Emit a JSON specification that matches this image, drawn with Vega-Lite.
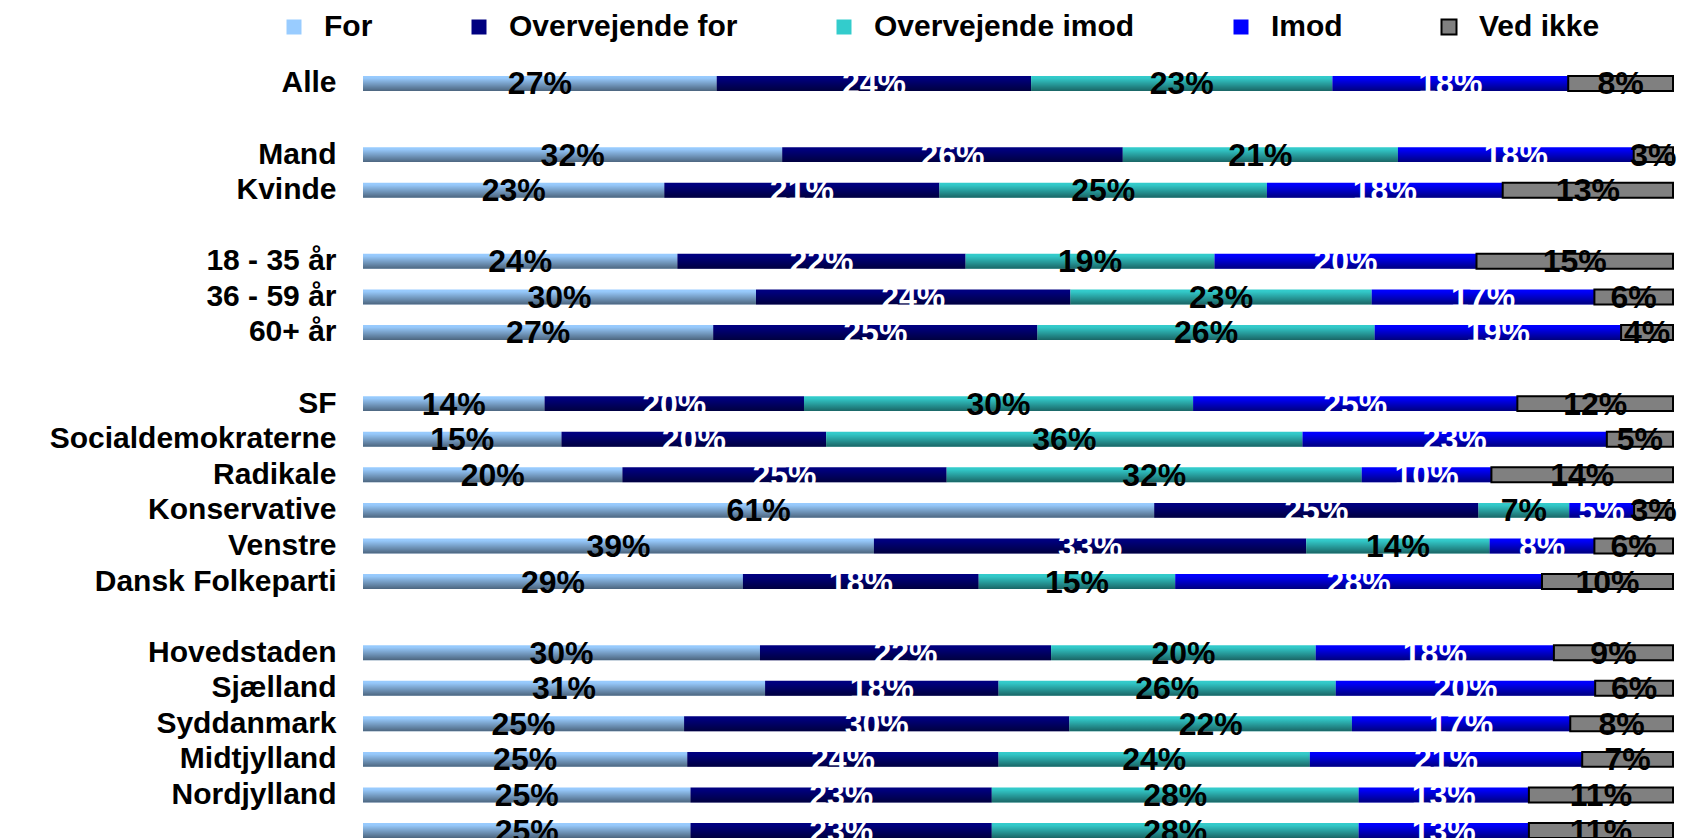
{
  "$schema": "https://vega.github.io/schema/vega-lite/v6.json",
  "width": 1310,
  "height": 762,
  "autosize": {"type": "none"},
  "padding": {"left": 363, "top": 76, "right": 9, "bottom": 0},
  "background": "white",
  "config": {"view": {"stroke": null}},
  "data": {"values": [
    {"g": "Alle", "c": "For", "v": 27}, {"g": "Alle", "c": "Overvejende for", "v": 24}, {"g": "Alle", "c": "Overvejende imod", "v": 23}, {"g": "Alle", "c": "Imod", "v": 18}, {"g": "Alle", "c": "Ved ikke", "v": 8},
    {"g": "Mand", "c": "For", "v": 32}, {"g": "Mand", "c": "Overvejende for", "v": 26}, {"g": "Mand", "c": "Overvejende imod", "v": 21}, {"g": "Mand", "c": "Imod", "v": 18}, {"g": "Mand", "c": "Ved ikke", "v": 3},
    {"g": "Kvinde", "c": "For", "v": 23}, {"g": "Kvinde", "c": "Overvejende for", "v": 21}, {"g": "Kvinde", "c": "Overvejende imod", "v": 25}, {"g": "Kvinde", "c": "Imod", "v": 18}, {"g": "Kvinde", "c": "Ved ikke", "v": 13},
    {"g": "18 - 35 år", "c": "For", "v": 24}, {"g": "18 - 35 år", "c": "Overvejende for", "v": 22}, {"g": "18 - 35 år", "c": "Overvejende imod", "v": 19}, {"g": "18 - 35 år", "c": "Imod", "v": 20}, {"g": "18 - 35 år", "c": "Ved ikke", "v": 15},
    {"g": "36 - 59 år", "c": "For", "v": 30}, {"g": "36 - 59 år", "c": "Overvejende for", "v": 24}, {"g": "36 - 59 år", "c": "Overvejende imod", "v": 23}, {"g": "36 - 59 år", "c": "Imod", "v": 17}, {"g": "36 - 59 år", "c": "Ved ikke", "v": 6},
    {"g": "60+ år", "c": "For", "v": 27}, {"g": "60+ år", "c": "Overvejende for", "v": 25}, {"g": "60+ år", "c": "Overvejende imod", "v": 26}, {"g": "60+ år", "c": "Imod", "v": 19}, {"g": "60+ år", "c": "Ved ikke", "v": 4},
    {"g": "SF", "c": "For", "v": 14}, {"g": "SF", "c": "Overvejende for", "v": 20}, {"g": "SF", "c": "Overvejende imod", "v": 30}, {"g": "SF", "c": "Imod", "v": 25}, {"g": "SF", "c": "Ved ikke", "v": 12},
    {"g": "Socialdemokraterne", "c": "For", "v": 15}, {"g": "Socialdemokraterne", "c": "Overvejende for", "v": 20}, {"g": "Socialdemokraterne", "c": "Overvejende imod", "v": 36}, {"g": "Socialdemokraterne", "c": "Imod", "v": 23}, {"g": "Socialdemokraterne", "c": "Ved ikke", "v": 5},
    {"g": "Radikale", "c": "For", "v": 20}, {"g": "Radikale", "c": "Overvejende for", "v": 25}, {"g": "Radikale", "c": "Overvejende imod", "v": 32}, {"g": "Radikale", "c": "Imod", "v": 10}, {"g": "Radikale", "c": "Ved ikke", "v": 14},
    {"g": "Konservative", "c": "For", "v": 61}, {"g": "Konservative", "c": "Overvejende for", "v": 25}, {"g": "Konservative", "c": "Overvejende imod", "v": 7}, {"g": "Konservative", "c": "Imod", "v": 5}, {"g": "Konservative", "c": "Ved ikke", "v": 3},
    {"g": "Venstre", "c": "For", "v": 39}, {"g": "Venstre", "c": "Overvejende for", "v": 33}, {"g": "Venstre", "c": "Overvejende imod", "v": 14}, {"g": "Venstre", "c": "Imod", "v": 8}, {"g": "Venstre", "c": "Ved ikke", "v": 6},
    {"g": "Dansk Folkeparti", "c": "For", "v": 29}, {"g": "Dansk Folkeparti", "c": "Overvejende for", "v": 18}, {"g": "Dansk Folkeparti", "c": "Overvejende imod", "v": 15}, {"g": "Dansk Folkeparti", "c": "Imod", "v": 28}, {"g": "Dansk Folkeparti", "c": "Ved ikke", "v": 10},
    {"g": "Hovedstaden", "c": "For", "v": 30}, {"g": "Hovedstaden", "c": "Overvejende for", "v": 22}, {"g": "Hovedstaden", "c": "Overvejende imod", "v": 20}, {"g": "Hovedstaden", "c": "Imod", "v": 18}, {"g": "Hovedstaden", "c": "Ved ikke", "v": 9},
    {"g": "Sjælland", "c": "For", "v": 31}, {"g": "Sjælland", "c": "Overvejende for", "v": 18}, {"g": "Sjælland", "c": "Overvejende imod", "v": 26}, {"g": "Sjælland", "c": "Imod", "v": 20}, {"g": "Sjælland", "c": "Ved ikke", "v": 6},
    {"g": "Syddanmark", "c": "For", "v": 25}, {"g": "Syddanmark", "c": "Overvejende for", "v": 30}, {"g": "Syddanmark", "c": "Overvejende imod", "v": 22}, {"g": "Syddanmark", "c": "Imod", "v": 17}, {"g": "Syddanmark", "c": "Ved ikke", "v": 8},
    {"g": "Midtjylland", "c": "For", "v": 25}, {"g": "Midtjylland", "c": "Overvejende for", "v": 24}, {"g": "Midtjylland", "c": "Overvejende imod", "v": 24}, {"g": "Midtjylland", "c": "Imod", "v": 21}, {"g": "Midtjylland", "c": "Ved ikke", "v": 7},
    {"g": "Nordjylland", "c": "For", "v": 25}, {"g": "Nordjylland", "c": "Overvejende for", "v": 23}, {"g": "Nordjylland", "c": "Overvejende imod", "v": 28}, {"g": "Nordjylland", "c": "Imod", "v": 13}, {"g": "Nordjylland", "c": "Ved ikke", "v": 11},
    {"g": "     ", "c": "For", "v": 25}, {"g": "     ", "c": "Overvejende for", "v": 23}, {"g": "     ", "c": "Overvejende imod", "v": 28}, {"g": "     ", "c": "Imod", "v": 13}, {"g": "     ", "c": "Ved ikke", "v": 11}
  ]},
  "transform": [
    {"stack": "v", "groupby": ["g"], "offset": "normalize", "as": ["x0", "x1"]},
    {"calculate": "(datum.x0 + datum.x1) / 2", "as": "xm"},
    {"calculate": "datum.v + '%'", "as": "lab"}
  ],
  "encoding": {
    "y": {
      "field": "g",
      "type": "nominal",
      "title": null,
      "scale": {
        "domain": ["Alle", " ", "Mand", "Kvinde", "  ", "18 - 35 år", "36 - 59 år", "60+ år", "   ", "SF", "Socialdemokraterne", "Radikale", "Konservative", "Venstre", "Dansk Folkeparti", "    ", "Hovedstaden", "Sjælland", "Syddanmark", "Midtjylland", "Nordjylland", "     "],
        "paddingInner": 0.58,
        "paddingOuter": 0
      },
      "axis": {
        "domain": false,
        "ticks": false,
        "grid": false,
        "labelPadding": 27,
        "labelFont": "Liberation Sans",
        "labelFontWeight": "bold",
        "labelFontSize": 30,
        "labelColor": "black",
        "labelLimit": 0,
        "labelBaseline": "middle"
      }
    },
    "x": {"field": "x0", "type": "quantitative", "scale": {"domain": [0, 1], "nice": false, "zero": false}, "axis": null}
  },
  "layer": [
    {
      "mark": {"type": "bar", "strokeWidth": 2},
      "encoding": {
        "x2": {"field": "x1"},
        "color": {
          "field": "c",
          "type": "nominal",
          "scale": {
            "domain": ["For", "Overvejende for", "Overvejende imod", "Imod", "Ved ikke"],
            "range": ["#99CCFF", "#000080", "#33CCCC", "#0000FF", "#808080"]
          },
          "legend": {
            "title": null,
            "orient": "none",
            "direction": "horizontal",
            "legendX": -84,
            "legendY": -64,
            "symbolType": "square",
            "symbolSize": 225,
            "symbolStrokeWidth": 2,
            "symbolOpacity": 1,
            "labelFont": "Liberation Sans",
            "labelFontWeight": "bold",
            "labelFontSize": 30,
            "labelColor": "black",
            "labelOffset": 15,
            "columnPadding": 91,
            "labelLimit": 0,
            "padding": 0
          }
        },
        "stroke": {
          "field": "c",
          "type": "nominal",
          "scale": {
            "domain": ["For", "Overvejende for", "Overvejende imod", "Imod", "Ved ikke"],
            "range": ["transparent", "transparent", "transparent", "transparent", "black"]
          },
          "legend": {
            "title": null,
            "orient": "none",
            "direction": "horizontal",
            "legendX": -84,
            "legendY": -64,
            "symbolType": "square",
            "symbolSize": 225,
            "symbolStrokeWidth": 2,
            "symbolOpacity": 1,
            "labelFont": "Liberation Sans",
            "labelFontWeight": "bold",
            "labelFontSize": 30,
            "labelColor": "black",
            "labelOffset": 15,
            "columnPadding": 91,
            "labelLimit": 0,
            "padding": 0
          }
        }
      }
    },
    {
      "transform": [{"filter": "datum.c !== 'Ved ikke'"}],
      "mark": {
        "type": "bar",
        "color": {"gradient": "linear", "x1": 0, "y1": 0, "x2": 0, "y2": 1, "stops": [{"offset": 0, "color": "rgba(0,0,0,0)"}, {"offset": 0.15, "color": "rgba(0,0,0,0.02)"}, {"offset": 1, "color": "rgba(0,0,0,0.5)"}]}
      },
      "encoding": {
        "x2": {"field": "x1"}
      }
    },
    {
      "mark": {"type": "text", "font": "Liberation Sans", "fontWeight": "bold", "fontSize": 32, "baseline": "alphabetic", "align": "center", "yOffset": 11},
      "encoding": {
        "x": {"field": "xm", "type": "quantitative"},
        "text": {"field": "lab", "type": "nominal"},
        "color": {
          "condition": {"test": "datum.c === 'Overvejende for' || datum.c === 'Imod'", "value": "white"},
          "value": "black"
        }
      }
    }
  ]
}
